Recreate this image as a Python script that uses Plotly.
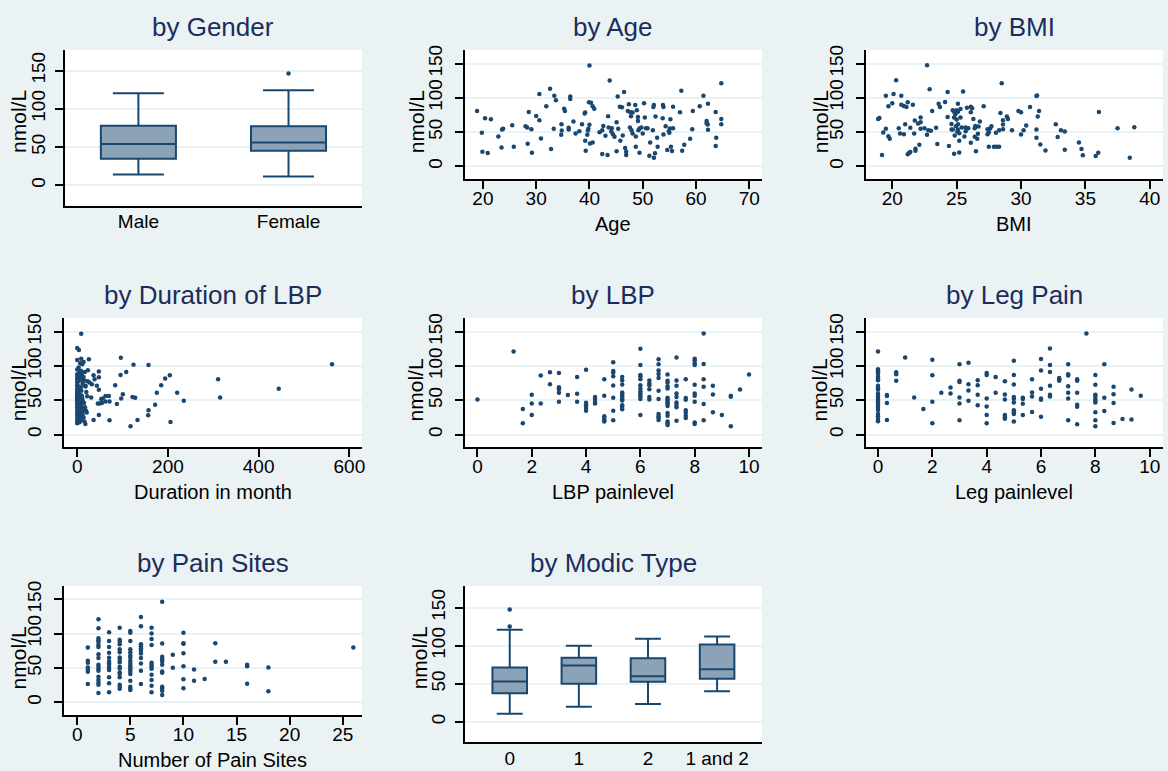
import plotly.graph_objects as go

# ---------------- data ----------------
gender_cats = ["Male", "Female"]
gender_q1 = [34.6, 45.0]
gender_med = [54.0, 55.8]
gender_q3 = [77.8, 77.0]
gender_lo = [13.9, 11.3]
gender_hi = [120.2, 124.1]
gender_out_x = ["Female"]
gender_out_y = [146.2]

modic_cats = ["0", "1", "2", "1 and 2"]
modic_q1 = [37.4, 50.0, 52.6, 56.5]
modic_med = [53.0, 73.9, 60.0, 69.1]
modic_q3 = [71.3, 84.3, 83.5, 101.7]
modic_lo = [10.4, 19.6, 23.5, 40.0]
modic_hi = [120.9, 100.0, 109.1, 112.2]
modic_out_x = ["0", "0"]
modic_out_y = [125.2, 147.8]

age_x = [18.9,19.8,19.9,20.4,20.9,21.5,22.9,23.5,23.6,23.8,
         25.5,25.8,28.0,28.3,28.6,28.4,29.1,29.2,30.0,30.6,
         30.6,30.9,31.9,32.6,32.8,33.3,33.4,33.7,34.75,34.7,
         34.8,35.25,35.4,36.1,36.1,36.4,36.4,37.0,37.4,38.1,
         38.6,39.1,39.2,39.2,39.3,39.6,39.7,39.8,39.9,40.0,
         40.0,40.1,40.3,40.6,40.6,40.9,41.9,42.4,42.4,42.6,
         43.0,43.5,43.4,43.6,43.8,44.1,44.2,44.4,44.7,45.1,
         45.1,45.3,45.4,45.7,45.8,46.1,46.25,46.5,46.7,46.9,
         46.9,47.2,47.4,47.6,47.7,47.8,47.9,48.1,48.1,48.6,
         48.7,48.7,48.9,49.1,49.1,49.2,49.4,49.4,49.75,50.0,
         50.25,50.4,50.6,50.9,51.25,51.4,51.9,52.0,52.1,52.1,
         52.3,52.4,52.7,52.8,53.75,53.8,53.9,53.9,54.3,54.6,
         54.9,55.0,55.1,55.2,55.3,55.5,55.7,55.7,57.0,57.25,
         57.4,57.8,58.9,59.3,59.4,60.7,61.4,62.0,62.0,62.2,
         62.25,62.25,63.7,63.7,63.8,64.75,64.75,64.75]
age_y = [80.8,48.9,21.3,70.2,19.4,68.7,43.5,27.6,53.7,54.7,
         60,28.5,58.5,56.6,79.4,32.9,54.2,19.8,73.5,67.3,
         105.5,40.6,87.6,113.2,25.2,54.7,103.1,96.3,61.5,46,
         52.3,84.2,80.8,56.1,53.7,102,98.2,65.3,47.9,51.3,
         61.5,77,78.4,37.3,22.7,46,52.3,54.7,93.4,147.1,
         60.5,33.4,92.9,87.6,34.8,84.2,49.8,52.7,17.9,59,
         44.5,73.1,16.5,56.6,125.3,50.8,55.6,46.9,43.1,64.4,
         21.8,102,54.7,87.1,37.3,86.1,45,108.4,26.6,21.3,
         16.5,80.8,90.5,56.6,78.9,73.1,52.7,78.4,47.9,89.5,
         28.5,43.5,81.8,72.1,66.3,52.7,19.8,55.2,56.6,47.9,
         91.9,71.1,55.6,55.6,15.5,34.8,52.7,86.6,89.5,12.6,
         18.9,72.6,41.6,28.5,70.2,89.5,86.6,46.5,58.5,23.7,
         51.3,48.9,55.2,68.7,28.5,22.3,87.1,55.6,78.9,110.3,
         22.7,31.5,40.2,54.2,80.8,87.6,103.1,66.3,62.9,61,
         53.2,91.4,79.4,29.5,41.6,121.4,69.2,61.5]

bmi_x = [18.9,19.0,19.2,19.3,19.5,19.5,19.7,19.7,19.8,20.0,
         20.1,20.3,20.5,20.6,20.7,20.7,20.9,20.9,21.0,21.2,
         21.1,21.2,21.3,21.4,21.4,21.6,21.7,21.75,21.8,21.8,
         22.0,22.1,22.2,22.2,22.2,22.5,22.7,22.7,22.8,22.9,
         23.0,23.1,23.4,23.5,23.6,23.7,24.1,24.3,24.3,24.4,
         24.6,24.6,24.7,24.7,24.8,24.8,24.8,24.85,24.9,24.95,
         25.0,25.1,25.1,25.0,25.05,25.1,25.1,25.2,25.2,25.2,
         25.3,25.3,25.4,25.5,25.6,25.7,25.7,25.8,25.9,26.1,
         26.1,26.1,26.2,26.3,26.4,26.4,26.45,26.5,26.6,26.65,
         26.7,26.8,27.1,27.4,27.4,27.5,27.5,27.6,27.7,27.9,
         28.05,28.1,28.3,28.3,28.4,28.5,28.6,28.6,28.6,28.9,
         28.98,29.3,29.8,30.0,30.0,30.2,30.4,30.7,31.2,31.2,
         31.2,31.25,31.3,31.4,31.5,31.9,32.7,32.85,33.1,33.4,
         33.4,34.5,34.7,34.8,35.8,36.0,36.05,37.5,38.45,38.8]
bmi_y = [69.2,70.6,16.5,49.4,54.7,103.1,87.6,44,40.2,91.9,
         105.5,125.8,55.6,47.9,103.1,90,46.9,88.1,61.5,93.4,
         86.6,17.4,19.4,56.1,20.8,90,47.9,66.8,25.6,22.7,
         62.4,31.5,71.1,64.4,54.7,55.6,147.6,46,52.7,112.7,
         51.8,80.8,56.1,32.4,91.4,86.6,93.9,108.4,72.1,29.5,
         53.7,61.9,53.7,81.8,79.8,71.1,18.4,45,76,58.5,
         81.8,79.8,91.4,68.2,50.3,61.5,53.7,48.4,37.3,20.3,
         83.7,71.1,56.6,109.3,43.5,51.3,56.6,85.6,55.6,34.4,
         78.9,87.1,84.7,69.2,55.6,43.1,59,21.8,40.2,47.4,
         58.1,65.3,87.6,54.2,46.9,49.8,28.5,55.2,58.5,28.5,
         48.9,28.5,52.7,28.5,77.9,121.4,54.2,67.3,61,72.6,
         69.2,52.7,80.8,78.9,46.5,52.7,59.5,86.6,53.7,41.6,
         102.6,103.5,72.6,80.8,31.9,23.2,61.5,42.6,52.7,50.8,
         24.2,34.8,25.2,16,15,19.8,79.4,55.6,12.6,57.1]

dur_x = [96.2,124.1,157.2,561.8,95.5,108,83.7,193.9,204.2,185.1,
         310.6,444.3,315,175.5,220.3,100.6,97,62.4,56.5,69.8,
         71.2,62.4,52.9,30.8,121.9,127.8,235,87.4,49.2,45.5,
         54.3,171.8,157.2,156.4,47.7,36,71.2,132.9,205.6,117.5,
         47.7,36,47.7,38.2,43.3,47.7,27.2,32.3,22.8,23.5,
         25.7,0,3.7,8.8,0,8.8,14,6.6,11,16.9,
         11,5.1,18.4,
         0,0,0,0,0,0,0,0,0,0,0,0,0,0,0,0,0,0,0,0,0,0,0,0,
         3,4,5,3,4,5,3,4,5,3,4,5,3,4,5,3,4,5,
         8,9,10,11,12,8,9,10,11,12,8,9,10,11,12,8,9,
         14,16,18,20,22,15,17,19,21,14,16,18]
dur_y = [112.3,102.1,101.6,102.6,87.1,91.4,72.1,81.8,86.6,72.1,
         80.8,66.8,54.2,61,61,59,52.7,56.1,52.7,56.1,
         48.4,48.4,51.8,54.2,54.7,53.7,49.4,44.5,45.5,45.5,
         46,43.5,35.3,28.1,28.5,21.3,20.8,21.3,18.4,12.1,
         91.9,86.6,83.7,80.8,71.1,65.3,76,73.5,77.9,93.9,
         109.8,126.3,123.4,147.1,108.9,110.8,106,104,102.6,91.4,
         90.5,90.5,71.1,
         95,88,84,80,76,72,68,65,62,60,58,56,54,52,50,47,44,40,36,32,28,24,20,16.5,
         98,86,82,78,70,66,63,59,55,51,48,42,38,34,30,26,22,18,
         93,88,85,80,74,69,64,57,53,49,45,41,37,33,29,25,21,
         84,79,70,62,56,46,40,35,32,25,19,15.5]

lbp_x = [0,
         1.33,
         1.67,1.67,
         2,2,2,
         2.33,2.33,
         2.67,2.67,
         3,3,3,3,3,
         3.33,
         3.67,3.67,3.67,
         4,4,4,4,4,
         4.33,4.33,4.33,4.33,
         4.67,4.67,4.67,4.67,4.67,4.67,
         5,5,5,5,5,5,5,5,
         5.33,5.33,5.33,5.33,5.33,5.33,5.33,5.33,5.33,5.33,5.33,5.33,5.33,
         6,6,6,6,6,6,6,6,6,6,6,6,6,
         6.33,6.33,6.33,6.33,6.33,6.33,
         6.67,6.67,6.67,6.67,6.67,6.67,6.67,6.67,6.67,6.67,6.67,
         7,7,7,7,7,7,7,7,7,7,7,7,7,7,7,7,
         7.33,7.33,7.33,7.33,7.33,7.33,7.33,7.33,7.33,
         7.67,7.67,7.67,7.67,7.67,7.67,7.67,
         8,8,8,8,8,8,8,8,8,8,
         8.33,8.33,8.33,8.33,8.33,8.33,
         8.67,8.67,8.67,
         9,
         9.33,9.33,9.33,
         9.67,
         10]
lbp_y = [51.3,
         121.4,
         37.3,16.5,
         58.1,45.5,28.5,
         86.1,45.5,
         91,73.5,
         90,69.2,66.3,61,47.9,
         57.6,
         84.2,59.5,47.9,
         94.8,46.5,42.6,38.7,34.8,
         54.7,51.8,47.4,45.5,
         80.8,56.6,26.6,24.2,20.8,18.9,
         105.5,92.9,90.5,85.2,71.6,53.7,34.8,20.8,
         84.2,79.4,73.1,61.5,59.5,57.6,55.2,53.2,51.3,49.8,42.6,40.2,36.8,
         125.3,101.6,87.1,85.2,80.8,72.1,66.8,62.9,60.5,57.6,55.2,51.8,28.5,
         78.9,74.5,72.1,66.3,54.7,51.3,
         109.8,102.6,93.4,88.5,82.7,63.9,51.8,30,26.6,24.2,21.3,
         87.6,78.4,76,70.6,67.3,53.7,51.8,49.4,46.9,44.5,41.6,31.5,27.6,18.9,16.5,14,
         112.7,78.9,71.1,60,54.7,46.9,43.5,39.7,20.3,
         80.8,53.2,50.8,35.3,31.9,27.6,24.2,
         110.8,108.4,104,101.6,72.6,60,56.6,47.9,17.4,15.5,
         147.6,103.1,80.8,69.7,44.5,20.8,
         71.1,58.5,32.4,
         28.5,
         56.6,55.2,12.1,
         65.8,
         87.6]

leg_x = [0]*23 + [0.33]*4 + [0.67]*3 + [1] + [1.33] + [1.67] + [2]*4 + [2.33] + [2.67]*2 \
        + [3]*6 + [3.33]*4 + [3.67]*4 + [4]*6 + [4.33]*2 + [4.67]*6 + [5]*10 + [5.33]*4 \
        + [5.67]*4 + [6]*6 + [6.33]*6 + [6.67]*3 + [7]*7 + [7.33]*6 + [7.67] + [8]*10 \
        + [8.33]*3 + [8.67]*4 + [9] + [9.33]*2 + [9.67]
leg_y = [121.4,95.3,92.4,89.5,84.7,81.8,79.4,71.1,67.7,65.3,59.5,56.6,53.7,50.8,47.9,45.5,42.1,39.2,35.8,30,26.6,22.7,19.4,
         57.6,56.1,46,21.3,
         91,88.1,78.4,
         112.7,
         54.2,
         37.3,
         109.3,86.6,47.9,16.5,
         61,
         68.7,60,
         102.6,78.4,76.9,54.2,45.5,20.8,
         105,73.5,64.4,49.4,
         79.4,72.1,58.1,42.6,
         90,87.1,52.7,41.1,28.5,16.5,
         84.2,61,
         77.9,58.5,51.3,28.5,25.2,23.2,
         107.9,87.1,73.1,54.7,52.3,46.9,35.3,32.4,30,18.9,
         53.7,51.8,45,28.5,
         80.8,61.5,55.6,32.9,
         110.3,93.4,66.8,52.7,50.8,26.1,
         125.8,101.6,91.4,71.1,58.1,55.6,
         82.7,80.8,78.4,
         102.6,88.1,86.1,70.6,61,52.7,20.8,
         80.8,78.4,61,43.5,40.6,15,
         147.6,
         87.1,72.6,58.1,56.1,52.3,49.4,46.9,32.4,20.8,12.1,
         102.6,53.7,34.4,
         69.7,59,46,16.9,
         22.7,
         65.8,21.8,
         56.6]

sites_x = [1]*7 + [2]*18 + [3]*13 + [4]*17 + [5]*18 + [6]*11 + [7]*12 + [8]*12 \
          + [9]*2 + [10]*7 + [11]*2 + [12] + [13]*2 + [14] + [16]*3 + [18]*2 + [26]
sites_y = [79.8,60.5,57.6,50.8,47.9,44.5,26.6,
           121,107.9,93.4,90.5,88.1,83.7,80.8,70.2,64.4,54.7,51.8,48.4,46,37.3,32.4,28.5,25.6,13.5,
           102.1,89.5,80.8,72.1,64.8,59.5,56.6,54.7,50.8,46.9,36.3,27.6,14.5,
           108.9,91.4,88.5,84.7,77.4,73.1,65.3,62.4,58.5,51.8,49.4,43.5,41.1,36.3,25.6,22.7,19.8,
           104,101.6,89.5,77.4,73.1,68.2,65.3,60.5,57.1,53.7,50.8,47.9,44.5,41.1,31.5,22.7,19.8,17.9,
           124.4,110.8,84.7,81.8,78.9,75,71.1,64.4,56.6,46,26.6,
           108.9,100.2,92.4,83.7,57.6,54.7,51.8,48.9,40.2,32.4,24.2,14.5,
           146.6,85.6,66.3,62.9,59.5,54.7,45,43.1,22.7,20.3,16.9,10.6,
           69.2,50.3,
           101.6,86.1,85.2,71.6,52.7,33.4,20.3,
           47.9,31.5,
           33.9,
           86.1,59,
           59,
           54.7,52.7,27.1,
           50.8,16,
           79.8]

panel_titles = ["by Gender", "by Age", "by BMI", "by Duration of LBP", "by LBP",
                "by Leg Pain", "by Pain Sites", "by Modic Type"]
x_titles = [None, "Age", "BMI", "Duration in month", "LBP painlevel",
            "Leg painlevel", "Number of Pain Sites", None]
y_title = "nmol/L"
y_ticks = [0, 50, 100, 150]

# ---------------- style / layout ----------------
W, H = 1168, 771
BG = "#EAF2F3"
NAVY = "#1A476F"
BOXFILL = "#8CA3B7"
TITLE_C = "#1c2d5c"
FONT = "Liberation Sans, Arial, Helvetica, sans-serif"

# pixel boxes of plot areas: (x0, x1, y0, y1)
boxes = {
    1: (65, 363, 45, 202),
    2: (466, 764, 45, 175),
    3: (868, 1166, 45, 175),
    4: (64, 363, 315, 445),
    5: (466, 764, 315, 445),
    6: (868, 1166, 315, 445),
    7: (64, 363, 585, 715),
    8: (466, 764, 585, 742),
}
xranges = {
    2: [16.6, 72.4], 3: [17.94, 41.03], 4: [-29.5, 628],
    5: [-0.466, 10.48], 6: [-0.45, 10.49], 7: [-1.26, 26.82],
}
xticks = {
    2: [20, 30, 40, 50, 60, 70], 3: [20, 25, 30, 35, 40], 4: [0, 200, 400, 600],
    5: [0, 2, 4, 6, 8, 10], 6: [0, 2, 4, 6, 8, 10], 7: [0, 5, 10, 15, 20, 25],
}
yranges = {1: [-26.8, 177.2], 8: [-26.9, 178.3], 7: [-19.2, 169.4]}
ytitle_x = {1: 18.7, 2: 417, 3: 822, 4: 18.7, 5: 417, 6: 822, 7: 18.7, 8: 420.7}


def px_x(p):
    return p / W


def px_y(p):
    return 1 - p / H


fig = go.Figure()

marker = dict(color=NAVY, size=4.5)

# Box panels
fig.add_trace(go.Box(x=gender_cats, q1=gender_q1, median=gender_med, q3=gender_q3,
                     lowerfence=gender_lo, upperfence=gender_hi, xaxis="x", yaxis="y",
                     fillcolor=BOXFILL, line=dict(color=NAVY, width=2), width=0.5,
                     whiskerwidth=0.68, boxpoints=False, showlegend=False, hoverinfo="skip"))
fig.add_trace(go.Scatter(x=gender_out_x, y=gender_out_y, mode="markers", marker=marker,
                         xaxis="x", yaxis="y", showlegend=False))
fig.add_trace(go.Box(x=modic_cats, q1=modic_q1, median=modic_med, q3=modic_q3,
                     lowerfence=modic_lo, upperfence=modic_hi, xaxis="x8", yaxis="y8",
                     fillcolor=BOXFILL, line=dict(color=NAVY, width=2), width=0.5,
                     whiskerwidth=0.75, boxpoints=False, showlegend=False, hoverinfo="skip"))
fig.add_trace(go.Scatter(x=modic_out_x, y=modic_out_y, mode="markers", marker=marker,
                         xaxis="x8", yaxis="y8", showlegend=False))

scatter_data = {2: (age_x, age_y), 3: (bmi_x, bmi_y), 4: (dur_x, dur_y),
                5: (lbp_x, lbp_y), 6: (leg_x, leg_y), 7: (sites_x, sites_y)}
for i, (xs, ys) in scatter_data.items():
    fig.add_trace(go.Scatter(x=xs, y=ys, mode="markers", marker=marker,
                             xaxis=f"x{i}", yaxis=f"y{i}", showlegend=False))

layout = dict(width=W, height=H, margin=dict(l=0, r=0, t=0, b=0),
              paper_bgcolor=BG, plot_bgcolor="white",
              font=dict(family=FONT, color="black"), showlegend=False)

TICK_SIZE = 19
annotations = []
for i in range(1, 9):
    x0, x1, y0, y1 = boxes[i]
    sfx = "" if i == 1 else str(i)
    is_box = i in (1, 8)
    xa = dict(domain=[px_x(x0), px_x(x1)], anchor=f"y{sfx}", showline=True,
              linecolor="black", linewidth=2, showgrid=False, zeroline=False,
              tickfont=dict(size=TICK_SIZE, color="black"), fixedrange=True)
    if is_box:
        cats = gender_cats if i == 1 else modic_cats
        xa.update(type="category", categoryorder="array", categoryarray=cats,
                  range=[-0.49, 1.49] if i == 1 else [-0.65, 3.65],
                  ticks="", ticklabelstandoff=-2)
    else:
        xa.update(range=xranges[i], tickvals=xticks[i], ticks="outside", ticklen=8,
                  tickwidth=1.5, tickcolor="black", ticklabelstandoff=-7)
    ya = dict(domain=[px_y(y1), px_y(y0)], anchor=f"x{sfx}", range=yranges.get(i, [-18.4, 170.3]),
              tickvals=y_ticks, tickangle=-90, ticks="outside", ticklen=8, tickwidth=1.5,
              tickcolor="black", showline=True, linecolor="black", linewidth=2,
              showgrid=True, gridcolor=BG, gridwidth=1.5, zeroline=False,
              tickfont=dict(size=TICK_SIZE, color="black"),
              ticklabelstandoff=2 if is_box else 5, fixedrange=True)
    layout[f"xaxis{sfx}"] = xa
    layout[f"yaxis{sfx}"] = ya

    row_off = 0 if i <= 3 else (270 if i <= 6 else 540)
    annotations.append(dict(text=panel_titles[i - 1], x=px_x((x0 + x1) / 2), y=px_y(row_off + 22),
                            xref="paper", yref="paper", xanchor="center", yanchor="middle",
                            showarrow=False, font=dict(size=26, color=TITLE_C, family=FONT)))
    annotations.append(dict(text=y_title, x=px_x(ytitle_x[i]), y=px_y(row_off + 117),
                            xref="paper", yref="paper", xanchor="center", yanchor="middle",
                            textangle=-90, showarrow=False,
                            font=dict(size=21, color="black", family=FONT)))
    if x_titles[i - 1]:
        annotations.append(dict(text=x_titles[i - 1], x=px_x((x0 + x1) / 2), y=px_y(row_off + 220),
                                xref="paper", yref="paper", xanchor="center", yanchor="middle",
                                showarrow=False, font=dict(size=20, color="black", family=FONT)))

layout["annotations"] = annotations
fig.update_layout(**layout)
fig.write_html("out.html", config={"responsive": False, "displayModeBar": False},
               post_script="document.body.style.margin='0';document.body.style.overflow='hidden';")
